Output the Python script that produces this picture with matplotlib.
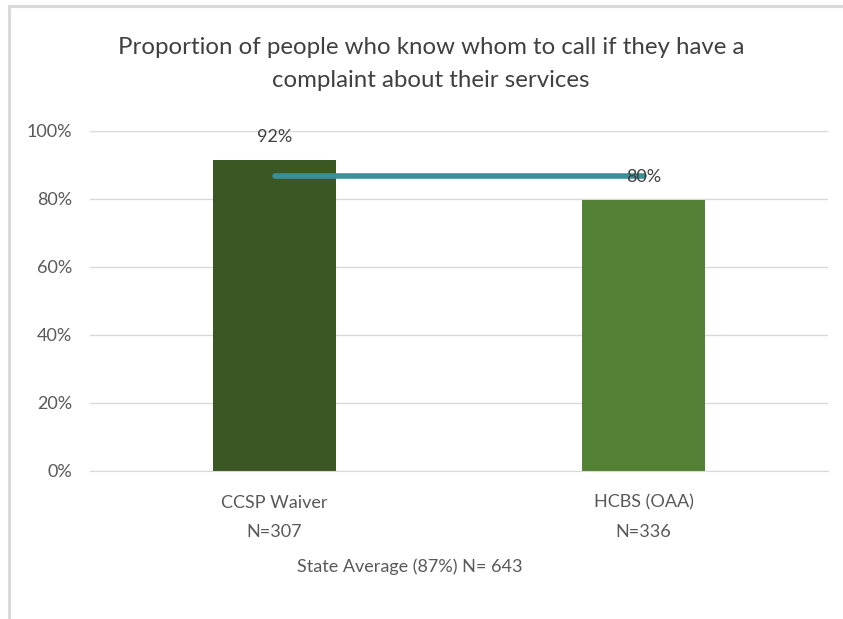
import matplotlib.pyplot as plt
from matplotlib.lines import Line2D

plt.rcParams['font.family'] = ['Lato', 'DejaVu Sans']

categories = ['CCSP Waiver\nN=307', 'HCBS (OAA)\nN=336']
values = [91.5, 79.7]
value_labels = ['92%', '80%']
state_avg = 86.8
bar_colors = ['#3B5724', '#538135']

fig = plt.figure(figsize=(8.43, 6.19), dpi=100)
ax = fig.add_axes([0.1068, 0.2391, 0.8754, 0.5493])

x = [0.5, 1.5]
ax.bar(x, values, width=0.333, color=bar_colors, zorder=2)
ax.plot(x, [state_avg, state_avg], color='#3A9099', lw=4, solid_capstyle='round', zorder=3)

for xi, v, lab in zip(x, values, value_labels):
    ax.text(xi, v + 4.3, lab, ha='center', va='bottom', fontsize=13, color='#404040', zorder=4)

ax.set_xlim(0, 2)
ax.set_ylim(0, 100)
ax.set_yticks(range(0, 101, 20))
ax.set_yticklabels([f'{t}%' for t in range(0, 101, 20)])
ax.set_xticks(x)
ax.set_xticklabels(categories, linespacing=2.0)
ax.tick_params(axis='both', length=0, labelsize=13, labelcolor='#595959')
ax.tick_params(axis='y', pad=13)
ax.tick_params(axis='x', pad=17)
ax.grid(axis='y', color='#D9D9D9', lw=1, zorder=0)
for s in ['top', 'right', 'left']:
    ax.spines[s].set_visible(False)
ax.spines['bottom'].set_color('#D9D9D9')

fig.text(410 / 843, 1 - 567 / 619, 'State Average (87%) N= 643', ha='center', va='center',
         fontsize=13, color='#595959')
fig.text(431 / 843, 1 - 64 / 619, 'Proportion of people who know whom to call if they have a\ncomplaint about their services',
         ha='center', va='center', fontsize=17.3, color='#404040', linespacing=1.65)

# chart border (top and left edges visible)
fig.add_artist(Line2D([9 / 843, 9 / 843], [0, 1 - 6 / 619], color='#D9D9D9', lw=2.2))
fig.add_artist(Line2D([9 / 843, 1], [1 - 6 / 619, 1 - 6 / 619], color='#D9D9D9', lw=2.2))

fig.savefig('out.png', dpi=100)
